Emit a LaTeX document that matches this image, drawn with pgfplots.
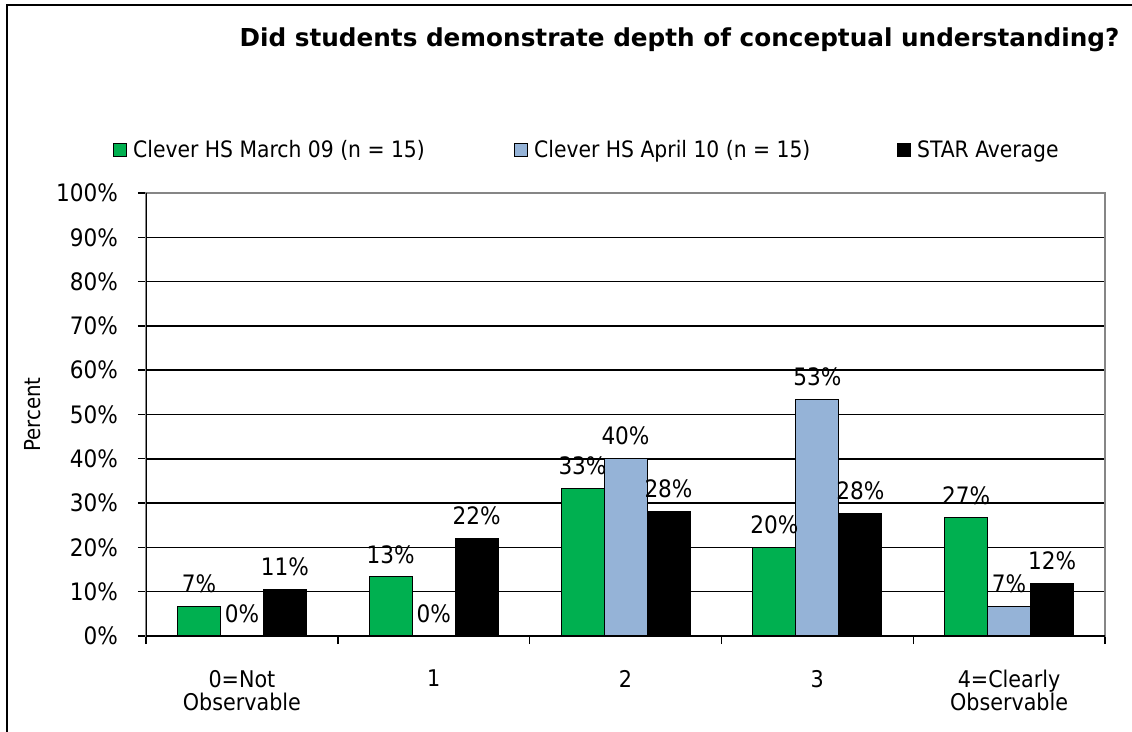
\documentclass[border=0pt]{standalone}
\usepackage{fontspec}
\setmainfont{DejaVu Sans Condensed}
\newfontfamily\titlefont{DejaVu Sans}
\usepackage{pgfplots}
\pgfplotsset{compat=1.18}
\definecolor{cgreen}{RGB}{0,176,80}
\definecolor{cblue}{RGB}{149,179,215}
\definecolor{cgray}{RGB}{134,134,134}

\pgfplotstableread{
x  march  april  star
0  6.67   0      10.6
1  13.33  0      22.1
2  33.33  40     28.1
3  20     53.33  27.7
4  26.67  6.67   11.9
}\datatable

\begin{document}
\begin{tikzpicture}[x=1pt,y=1pt]
\useasboundingbox (0,0) rectangle (1132,731);
\draw[line width=1.5pt, black] (7,-10) -- (7,726) -- (1145,726);
\node[anchor=base, font=\titlefont\bfseries\fontsize{24.7}{30}\selectfont] at (679.5,684.3) {Did students demonstrate depth of conceptual understanding?};
\node[rotate=90, font=\fontsize{22}{26}\selectfont] at (33,316.5) {Percent};
\begin{axis}[
  at={(146pt,95pt)}, anchor=south west,
  scale only axis, width=959pt, height=443pt,
  ybar=0pt, bar width=43pt,
  xmin=-0.5, xmax=4.5, ymin=0, ymax=100,
  ytick={0,10,...,100},
  yticklabels={0\%,10\%,20\%,30\%,40\%,50\%,60\%,70\%,80\%,90\%,100\%},
  ymajorgrids, grid style={black, line width=1.5pt},
  axis line style={cgray, line width=1.8pt},
  xtick={-0.5,0.5,1.5,2.5,3.5,4.5}, xticklabels={},
  extra x ticks={0,1,2,3,4},
  extra x tick labels={{0=Not\\Observable},1,2,3,{4=Clearly\\Observable}},
  extra x tick style={major tick length=0pt, grid=none},
  tick align=outside, tick style={black, line width=1.4pt},
  xtick pos=bottom, ytick pos=left,
  major tick length=8pt,
  yticklabel style={font=\fontsize{24}{28}\selectfont, inner sep=0pt, anchor=east, xshift=-20pt},
  xticklabel style={font=\fontsize{23}{23}\selectfont, align=center, inner sep=0pt, anchor=north, yshift=-34pt},
  nodes near coords={\pgfmathprintnumber[fixed,precision=0,assume math mode=true]{\pgfplotspointmeta}\%},
  every node near coord/.append style={font=\fontsize{24}{28}\selectfont, inner sep=0pt, anchor=south, yshift=13pt, black},
  legend columns=3,
  legend image code/.code={\draw[#1,/tikz/.cd,line width=1pt,draw=black] (0pt,-6.5pt) rectangle (13pt,6.5pt);},
  legend style={draw=none, fill=none, at={(axis description cs:-0.0344,1.0971)}, anchor=west, inner sep=0pt, column sep=6pt, nodes={inner sep=0pt, font=\fontsize{22.6}{26}\selectfont}},
]
\addplot[fill=cgreen, draw=black, line width=1pt] table[x=x, y=march] {\datatable};
\addlegendentry{\makebox[375pt][l]{Clever HS March 09 (n = 15)}}
\addplot[fill=cblue, draw=black, line width=1pt] table[x=x, y=april] {\datatable};
\addlegendentry{\makebox[357pt][l]{Clever HS April 10 (n = 15)}}
\addplot[fill=black, draw=black, line width=1pt] table[x=x, y=star] {\datatable};
\addlegendentry{STAR Average}
\draw[black, line width=1.8pt] (rel axis cs:0,1) -- (rel axis cs:0,0) -- (rel axis cs:1,0);
\end{axis}
\end{tikzpicture}
\end{document}
